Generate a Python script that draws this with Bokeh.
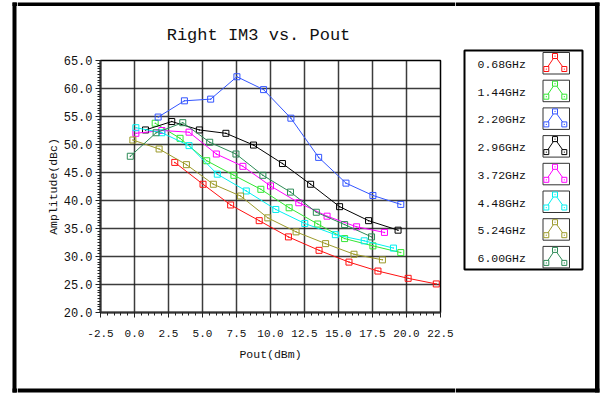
from bokeh.plotting import figure
from bokeh.models import Range1d, FixedTicker, PrintfTickFormatter
from bokeh.layouts import row, column
from bokeh.core.properties import value
from bokeh.embed import file_html
from bokeh.resources import INLINE

# Right IM3 versus output power, one sweep per carrier frequency
freq_labels = ["0.68GHz", "1.44GHz", "2.20GHz", "2.96GHz",
               "3.72GHz", "4.48GHz", "5.24GHz", "6.00GHz"]
colors = ["#ff1010", "#33e633", "#3355ff", "#000000",
          "#ff00ff", "#00f0f0", "#9c9a2a", "#2e8b57"]

pout_068 = [2.96, 5.04, 7.07, 9.17, 11.32, 13.57, 15.77, 17.90, 20.12, 22.19]
amp_068 = [46.8, 42.9, 39.2, 36.4, 33.5, 31.1, 29.0, 27.4, 26.1, 25.1]

pout_144 = [1.52, 3.35, 5.31, 7.31, 9.29, 11.37, 13.47, 15.45, 17.53, 19.58]
amp_144 = [53.8, 51.1, 47.1, 44.5, 42.0, 38.7, 35.8, 33.2, 31.9, 30.7]

pout_220 = [1.74, 3.67, 5.60, 7.53, 9.49, 11.50, 13.54, 15.55, 17.53, 19.58]
amp_220 = [54.9, 57.8, 58.1, 62.1, 59.8, 54.7, 47.7, 43.1, 40.9, 39.3]

pout_296 = [0.81, 2.74, 4.77, 6.72, 8.75, 10.88, 12.95, 15.08, 17.21, 19.38]
amp_296 = [52.6, 54.1, 52.6, 52.0, 49.9, 46.6, 42.9, 38.9, 36.4, 34.7]

pout_372 = [0.10, 2.01, 4.01, 6.02, 7.97, 10.00, 12.08, 14.16, 16.33, 18.38]
amp_372 = [52.0, 52.5, 52.2, 48.3, 46.1, 42.6, 39.6, 37.2, 35.3, 34.3]

pout_448 = [0.10, 2.01, 4.01, 6.09, 8.22, 10.39, 12.52, 14.77, 16.89, 19.04]
amp_448 = [53.0, 52.1, 49.8, 44.7, 41.7, 38.4, 35.9, 33.9, 32.8, 31.5]

pout_524 = [-0.12, 1.81, 3.82, 5.80, 7.80, 9.80, 11.88, 14.05, 16.14, 18.23]
amp_524 = [50.8, 49.2, 46.4, 42.9, 40.8, 36.9, 34.4, 32.3, 30.4, 29.4]

pout_600 = [-0.31, 1.59, 3.55, 5.53, 7.46, 9.44, 11.47, 13.37, 15.45, 17.43]
amp_600 = [47.9, 52.1, 53.9, 50.4, 48.3, 44.5, 41.5, 37.9, 35.7, 33.5]

x_ticks = [-2.5, 0.0, 2.5, 5.0, 7.5, 10.0, 12.5, 15.0, 17.5, 20.0, 22.5]
y_ticks = [20, 25, 30, 35, 40, 45, 50, 55, 60, 65]

series = [
    (pout_068, amp_068), (pout_144, amp_144), (pout_220, amp_220),
    (pout_296, amp_296), (pout_372, amp_372), (pout_448, amp_448),
    (pout_524, amp_524), (pout_600, amp_600),
]

FONT = "Liberation Mono"
W, H = 601, 393
LEFT_W = 17                     # left strip width
LEG_X0 = 455                    # page x where the legend column starts
HEAD_H = 54                     # strip above the chart (title)
FOOT_Y = 370                    # page y where the strip below the chart starts
FRAME_L, FRAME_R, FRAME_T, FRAME_B = 100, 440, 60, 312   # plot area, page pixels

# page frame bars: (left, right, top, bottom) in page pixels
frame_bars = [(12, 599, 2, 5.5), (12, 599, 388, 392), (12, 16, 2, 392), (594.5, 599, 2, 392)]


def no_frame_align(f):
    # every surface keeps its own frame instead of lining up with its neighbours
    if "frame_align" in f.properties():
        f.frame_align = False


def panel(x0, y0, w, h):
    """Plain drawing surface whose data coordinates are page pixels."""
    f = figure(width=w, height=h, x_range=Range1d(x0, x0 + w), y_range=Range1d(y0 + h, y0),
               output_backend="svg", toolbar_location=None, title=None,
               x_axis_type=None, y_axis_type=None,
               min_border=0, min_border_left=0, min_border_right=0,
               min_border_top=0, min_border_bottom=0)
    f.grid.visible = False
    f.outline_line_color = None
    f.background_fill_color = "white"
    f.border_fill_color = "white"
    no_frame_align(f)
    # the part of the page frame that falls on this surface, cut to its extent
    ls, rs, ts, bs = [], [], [], []
    for l, r, t, b in frame_bars:
        l2, r2 = max(l, x0), min(r, x0 + w)
        t2, b2 = max(t, y0), min(b, y0 + h)
        if l2 < r2 and t2 < b2:
            ls.append(l2)
            rs.append(r2)
            ts.append(t2)
            bs.append(b2)
    if ls:
        f.quad(left=ls, right=rs, top=ts, bottom=bs, fill_color="black", line_color=None)
    return f


left = panel(0, 0, LEFT_W, H)
head = panel(LEFT_W, 0, LEG_X0 - LEFT_W, HEAD_H)
foot = panel(LEFT_W, FOOT_Y, LEG_X0 - LEFT_W, H - FOOT_Y)
leg = panel(LEG_X0, 0, W - LEG_X0, H)

# title
head.text(x=[258], y=[35], text=["Right IM3 vs. Pout"], text_font=value(FONT),
          text_font_size="17px", text_align="center", text_baseline="middle",
          text_color="#111111")

# legend
leg.quad(left=[464], right=[582], top=[50], bottom=[269],
         fill_color="white", line_color="black", line_width=2)

rows = [64 + i * 27.7 for i in range(len(freq_labels))]
leg.text(x=[477] * len(rows), y=rows, text=freq_labels, text_font=value(FONT),
         text_font_size="11.5px", text_align="left", text_baseline="middle",
         text_color="#111111")
leg.quad(left=[542.5] * len(rows), right=[569] * len(rows),
         top=[r - 12 for r in rows], bottom=[r + 9.5 for r in rows],
         fill_color="white", line_color="#333333", line_width=1)

lx, mx, rx = 545.8, 554.5, 563.8
tent_xs = [[lx, mx, rx] for _ in rows]
tent_ys = [[r + 4.5, r - 8.5, r + 4.5] for r in rows]
leg.multi_line(tent_xs, tent_ys, line_color=colors, line_width=1)
for txs, tys, c in zip(tent_xs, tent_ys, colors):
    leg.scatter(txs, tys, marker="square_dot", size=5, line_color=c,
                fill_color="white", line_width=1)

# ---- chart ----
p = figure(width=LEG_X0 - LEFT_W, height=FOOT_Y - HEAD_H,
           x_range=Range1d(-2.5, 22.5), y_range=Range1d(20, 65),
           output_backend="svg", toolbar_location=None, title=None,
           min_border_left=FRAME_L - LEFT_W, min_border_right=LEG_X0 - FRAME_R,
           min_border_top=FRAME_T - HEAD_H, min_border_bottom=FOOT_Y - FRAME_B)
no_frame_align(p)
p.background_fill_color = "white"
p.border_fill_color = "white"
p.outline_line_color = "black"
p.outline_line_width = 1.5

p.xaxis.ticker = FixedTicker(ticks=x_ticks, minor_ticks=[v / 2 for v in range(-5, 46)])
p.yaxis.ticker = FixedTicker(ticks=y_ticks, minor_ticks=[v / 2 for v in range(40, 131)])
p.xaxis.formatter = PrintfTickFormatter(format="%.1f")
p.yaxis.formatter = PrintfTickFormatter(format="%.1f")
for ax in (p.xaxis[0], p.yaxis[0]):
    ax.axis_line_color = "#333333"
    ax.axis_line_width = 2
    ax.major_tick_in = 0
    ax.major_tick_out = 5
    ax.minor_tick_in = 0
    ax.minor_tick_out = 3
    ax.major_tick_line_color = "#222222"
    ax.minor_tick_line_color = "#222222"
    ax.major_label_text_font = FONT
    ax.major_label_text_color = "#111111"
    ax.axis_label_text_font = FONT
    ax.axis_label_text_font_size = "11.5px"
    ax.axis_label_text_font_style = "normal"
    ax.axis_label_text_color = "#111111"
p.xaxis.major_label_text_font_size = "11px"
p.yaxis.major_label_text_font_size = "12px"
p.xaxis.axis_label = "Pout(dBm)"
p.yaxis.axis_label = "Amplitude(dBc)"
p.xaxis.major_label_standoff = 12
p.xaxis.axis_label_standoff = 8
p.yaxis.major_label_standoff = 3
p.yaxis.axis_label_standoff = 1

p.xgrid.ticker = FixedTicker(ticks=x_ticks)
p.ygrid.ticker = FixedTicker(ticks=y_ticks)
p.grid.grid_line_color = "#1a1a1a"
p.grid.grid_line_width = 1.5
p.grid.grid_line_alpha = 0.85

for (xs, ys), c in zip(series, colors):
    p.line(xs, ys, line_color=c, line_width=1)
    p.scatter(xs, ys, marker="square_dot", size=6, line_color=c,
              fill_color=None, line_width=1)

page = row(left, column(head, p, foot), leg)

open("out.html", "w").write(file_html(page, INLINE))
